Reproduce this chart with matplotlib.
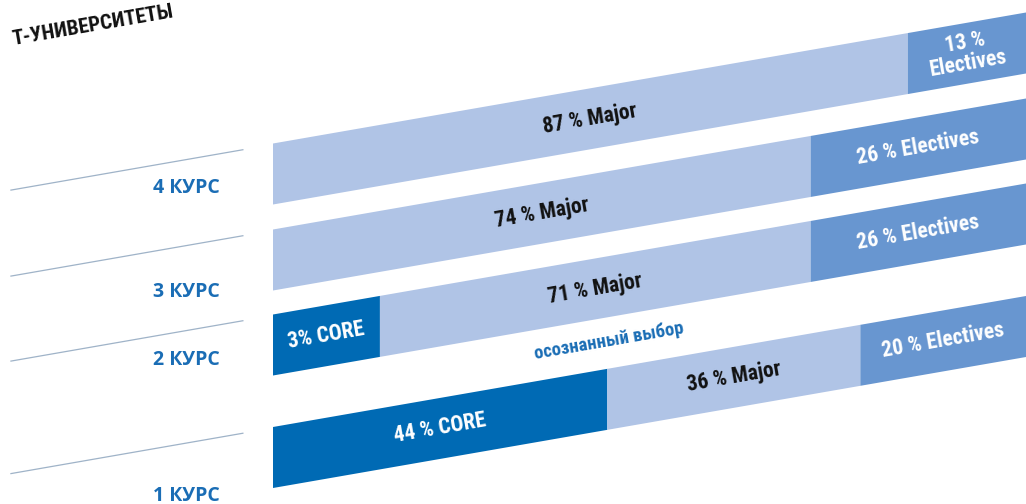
import numpy as np
import matplotlib.pyplot as plt
import matplotlib.transforms as mtransforms

# data (segment widths, % of bar length)
courses = ['1 КУРС', '2 КУРС', '3 КУРС', '4 КУРС']
core_w = [44.4, 14.2, 0, 0]
major_w = [33.6, 57.2, 71.4, 84.3]
elect_w = [22.0, 28.6, 28.6, 15.7]
core_lbl = ['44 % CORE', '3% CORE', '', '']
major_lbl = ['36 % Major', '71 % Major', '74 % Major', '87 % Major']
elect_lbl = ['20 % Electives', '26 % Electives', '26 % Electives', '13 %\nElectives']

# layout
bar_y = np.array([457.5, 345, 260, 174])
label_y = [496, 360, 292, 188]
bar_h = 61
slope = 131 / 753.0
angle = np.degrees(np.arctan(slope))

c_core = '#006ab4'
c_major = '#b0c4e6'
c_elect = '#6896d0'
c_text = '#1a6db5'
font = ['Roboto Condensed', 'Roboto', 'DejaVu Sans']

W, H = 1026, 504
fig = plt.figure(figsize=(W / 100, H / 100), dpi=100)
ax = fig.add_axes([273 / W, 0, 753 / W, 1])
ax.set_xlim(0, 100)
ax.set_ylim(H, 0)
ax.axis('off')

# shear: bars rise to the right
k = -131 / 100.0
skew = mtransforms.Affine2D.from_values(1, k, 0, 1, 0, 0) + ax.transData

core_w = np.array(core_w)
major_w = np.array(major_w)
elect_w = np.array(elect_w)

ax.barh(bar_y, core_w, left=0, height=bar_h, color=c_core, lw=0, transform=skew)
ax.barh(bar_y, major_w, left=core_w, height=bar_h, color=c_major, lw=0, transform=skew)
ax.barh(bar_y, elect_w, left=core_w + major_w, height=bar_h, color=c_elect, lw=0, transform=skew)

for i in range(len(courses)):
    segs = [(0, core_w[i], core_lbl[i], 'white'),
            (core_w[i], major_w[i], major_lbl[i], '#111111'),
            (core_w[i] + major_w[i], elect_w[i], elect_lbl[i], 'white')]
    for left, w, txt, col in segs:
        if w == 0:
            continue
        ax.text(left + w / 2, bar_y[i], txt, transform=skew, rotation=angle,
                rotation_mode='anchor', ha='center', va='center', color=col,
                fontsize=15.5, fontweight='bold', family=font, linespacing=0.95)

    # thin guide line and course label on the left
    ax.plot([-34.8, -4.0], [bar_y[i] - 29.5] * 2, color='#9fb3c8', lw=0.9,
            transform=skew, clip_on=False)
    fig.text(220 / W, 1 - label_y[i] / H, courses[i], ha='right', va='center',
             color=c_text, fontsize=14, fontweight='bold', family='Open Sans')

ax.text(44.6, 399, 'осознанный выбор', transform=skew, rotation=angle,
        rotation_mode='anchor', ha='center', va='center', color=c_text,
        fontsize=13.5, fontweight='bold', family=font)

fig.text(13 / W, 1 - 45 / H, 'Т-УНИВЕРСИТЕТЫ', rotation=angle, rotation_mode='anchor',
         ha='left', va='baseline', color='#111111', fontsize=15, fontweight='bold',
         family=font)

fig.savefig('out.png', dpi=100)
